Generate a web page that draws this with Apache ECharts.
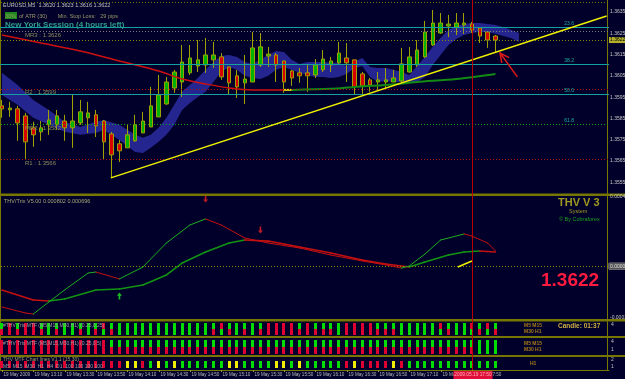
<!DOCTYPE html>
<html>
<head>
<meta charset="utf-8">
<script src="https://cdn.jsdelivr.net/npm/echarts@6/dist/echarts.min.js"></script>
<style>
html,body{margin:0;padding:0;background:#00002b;overflow:hidden;}
#chart{width:625px;height:379px;}
</style>
</head>
<body>
<div id="chart"></div>
<script>
// ================= DATA =================
// EURUSD M5 candles: [open, close, low, high]
const ohlc = [
 [1.35909,1.35895,1.35853,1.35937],[1.35890,1.35899,1.35857,1.35928],[1.35895,1.35829,1.35745,1.35909],
 [1.35862,1.35740,1.35660,1.35876],[1.35806,1.35773,1.35717,1.35834],[1.35787,1.35806,1.35745,1.35838],
 [1.35820,1.35843,1.35773,1.35890],[1.35820,1.35862,1.35796,1.35890],[1.35838,1.35806,1.35745,1.35867],
 [1.35806,1.35838,1.35712,1.35960],[1.35829,1.35881,1.35820,1.35937],[1.35853,1.35876,1.35782,1.35928],
 [1.35867,1.35815,1.35763,1.35890],[1.35838,1.35740,1.35660,1.35843],[1.35777,1.35679,1.35571,1.35787],
 [1.35731,1.35698,1.35646,1.35749],[1.35712,1.35773,1.35712,1.35820],[1.35745,1.35820,1.35740,1.35867],
 [1.35782,1.35838,1.35782,1.35881],[1.35810,1.35909,1.35810,1.35998],[1.35857,1.35960,1.35857,1.36054],
 [1.35918,1.36021,1.35914,1.36045],[1.35993,1.36068,1.35970,1.36078],[1.36021,1.36115,1.35951,1.36195],
 [1.36064,1.36134,1.36054,1.36195],[1.36096,1.36125,1.36068,1.36218],[1.36101,1.36148,1.36064,1.36228],
 [1.36125,1.36148,1.36087,1.36209],[1.36139,1.36045,1.36031,1.36157],[1.36092,1.36017,1.35960,1.36092],
 [1.36050,1.35998,1.35946,1.36078],[1.36017,1.36035,1.35918,1.36148],[1.36021,1.36181,1.36021,1.36256],
 [1.36101,1.36186,1.36092,1.36251],[1.36143,1.36152,1.36092,1.36186],[1.36148,1.36101,1.36021,1.36157],
 [1.36120,1.36021,1.35970,1.36120],[1.36073,1.36040,1.36003,1.36078],[1.36064,1.36050,1.36017,1.36087],
 [1.36064,1.36050,1.35975,1.36101],[1.36054,1.36101,1.36040,1.36129],[1.36078,1.36129,1.36068,1.36171],
 [1.36101,1.36120,1.36068,1.36139],[1.36111,1.36157,1.36101,1.36209],[1.36134,1.36111,1.36021,1.36204],
 [1.36125,1.35998,1.35960,1.36125],[1.36059,1.36003,1.35965,1.36068],[1.36031,1.36007,1.35975,1.36040],
 [1.36021,1.36031,1.35984,1.36068],[1.36021,1.36031,1.35993,1.36087],[1.36021,1.36040,1.36021,1.36078],
 [1.36026,1.36106,1.36021,1.36181],[1.36068,1.36139,1.36064,1.36186],[1.36101,1.36171,1.36092,1.36218],
 [1.36139,1.36256,1.36134,1.36308],[1.36195,1.36298,1.36190,1.36359],[1.36251,1.36298,1.36247,1.36345],
 [1.36284,1.36293,1.36232,1.36336],[1.36279,1.36298,1.36242,1.36345],[1.36289,1.36298,1.36247,1.36345],
 [1.36293,1.36265,1.36251,1.36303],[1.36275,1.36237,1.36204,1.36279],[1.36256,1.36218,1.36181,1.36256],
 [1.36237,1.36218,1.36162,1.36242]
];

// blue channel band (bar index, upper, lower)
const bandIdx = [0,2,4,6,8,10,12,13,15,17,18,19,20,21,22,23,24,25,26,27,28,29,30,31,32,33,34,35,36,37,38,39,40,41,42,43,44,45,46,47,48,49,50,51,52,53,54,55,56,57,58,59,60,61,62,63,64,65,66];
const bandUp  = [1.36064,1.36007,1.35937,1.35890,1.35834,1.35810,1.35834,1.35843,1.35820,1.35773,1.35759,1.35773,1.35806,1.35853,1.35914,1.35975,1.36007,1.36040,1.36078,1.36115,1.36143,1.36148,1.36139,1.36115,1.36106,1.36125,1.36148,1.36167,1.36162,1.36125,1.36106,1.36115,1.36115,1.36115,1.36111,1.36111,1.36096,1.36115,1.36134,1.36092,1.36087,1.36087,1.36078,1.36068,1.36054,1.36096,1.36139,1.36186,1.36228,1.36265,1.36284,1.36293,1.36298,1.36298,1.36293,1.36289,1.36279,1.36265,1.36251];
const bandLo  = [1.35960,1.35914,1.35853,1.35820,1.35787,1.35773,1.35782,1.35796,1.35749,1.35693,1.35688,1.35712,1.35740,1.35773,1.35820,1.35890,1.35923,1.35951,1.35975,1.36021,1.36068,1.36092,1.36078,1.36050,1.36040,1.36035,1.36050,1.36078,1.36092,1.36078,1.36064,1.36054,1.36045,1.36045,1.36040,1.36045,1.36059,1.36087,1.36096,1.36045,1.36021,1.36026,1.36021,1.36021,1.36017,1.36021,1.36045,1.36101,1.36148,1.36195,1.36223,1.36242,1.36251,1.36256,1.36256,1.36247,1.36237,1.36228,1.36209];

// moving average (red falling, yellow flat, green rising)
const maIdx = [0,5,10,15,20,23,26,29,32,36,37,42,45,49,53,58,63];
const maVal = [1.36242,1.36204,1.36167,1.36120,1.36073,1.36035,1.36012,1.35993,1.35984,1.35984,1.35984,1.35989,1.35998,1.36007,1.36021,1.36035,1.36059];
const maYellowFrom = 36, maGreenFrom = 37;

// levels
const fibLevels = [1.36279,1.36106,1.35965,1.35824];
const fibNames  = ['23.6','38.2','50.0','61.8'];
const fibDrawn  = [true, true, true, false]; // 61.8 coincides with MR2 line
const pivotLevels = [1.36261,1.35989,1.35824,1.35660];
const pivotNames  = ['MR3','R2','MR2','R1'];
const pivotColors = ['#7d7d7d','#b01010','#17a017','#b01010'];
const topLevel = 1.36397;
const currentPrice = 1.36218;

// trend line and arrow
const trendIdx = [13.9, 77.2];
const trendVal = [1.35571, 1.36331];
const arrowIdx = [65.8, 63.6];
const arrowVal = [1.36045, 1.36157];

// THV / Trix indicator
const fastIdx = [0,3,4,6,8,11,12,15,18,21,24,26,28,31,34,38,42,46,49,51,52,54,56,59,60,62,63];
const fastVal = [-0.000236,-0.000271,-0.000277,-0.000207,-0.000138,-0.000040,-0.000034,-0.000074,-0.000005,0.000134,0.000238,0.000273,0.000238,0.000163,0.000134,0.000105,0.000064,0.000030,0.000007,-0.000011,0.000001,0.000070,0.000151,0.000186,0.000174,0.000134,0.000088];
const slowIdx = [0,4,6,8,12,15,18,21,23,26,29,31,34,38,42,46,49,52,54,57,59,61,62,63];
const slowVal = [-0.000138,-0.000196,-0.000202,-0.000190,-0.000138,-0.000132,-0.000109,-0.000051,0.000018,0.000082,0.000134,0.000151,0.000145,0.000111,0.000076,0.000036,0.000012,-0.000005,0.000024,0.000064,0.000082,0.000088,0.000085,0.000082];
const upArrowIdx = [15], upArrowVal = [-0.000173];
const downArrowIdx = [26,33], downArrowVal = [0.000388,0.000209];
const thvYellowIdx = [58.2, 60], thvYellowVal = [-0.000005, 0.000030];

// MTF bar panels (g = green, r = red, y = yellow), top segment first
const panel1Codes = ['gr','rr','gr','rr','rr','gr','gg','gr','gg','gg','gr','gg','gr','rg','gr',
 'gg','gg','gg','gg','gg','gg','gg','gg','gg','gg','gg','gg',
 'gr','rg','gr','gg','gr','gg','gr','rr','rr','rr','rr','gr','rr',
 'gr','gr','gr','gg','rr','rr','rr','rr','gr','gr','gr','gg','gg','gg','gg','gg','rg','gr','gg','gg','rg','gr','rg','gr'];
const panel2Codes = ('rr rr rr rr rr rr rr rr rr rr rr rr rr rr gr gr gr gr gr gr gr gr gr gr gr gr gr gr gr gr gr gr ' +
 'gr gr gr gr gr gr gr gr gr gr gr gr gr gr gr gr gr gr gr gr gr gr gr gr gr gr gr gr gr gg gg gg').split(' ');
const panel3Codes = ('rrrrrrrrrrrrrrrr' + 'yyrgygyggg' + 'gggyyggggyygyg' + 'ggggryrrrryrg' + 'ggggggggggg').split('');

// time axis
const tickLabels = ['19 May 2009','19 May 13:10','19 May 13:30','19 May 13:50','19 May 14:10','19 May 14:30',
 '19 May 14:50','19 May 15:10','19 May 15:30','19 May 15:50','19 May 16:10','19 May 16:30','19 May 16:50',
 '19 May 17:10','19 May 17:30','19 May 17:50'];
const tickEvery = 4;
const crossIdx = 60;
const crossLabel = '2009.05.19 17:50';

// ================= CHART =================
const SLOTS = 78;
const cats = Array.from({length: SLOTS}, (_, i) => String(i));
const FONT = '"Liberation Sans", Arial, sans-serif';
const OLIVE = '#767600';
const codeColor = {g: '#00dd00', r: '#dd0030', y: '#eeee00'};
const pair = (ix, vs) => ix.map((x, k) => [x, vs[k]]);

const G = [
  {top: 0, height: 193},
  {top: 197, height: 121},
  {top: 322, height: 13},
  {top: 339, height: 16},
  {top: 357, height: 13}
];

function valX(g) { return {gridIndex: g, type: 'value', min: -0.5, max: SLOTS - 0.5, show: false}; }

function slopeLines(ix, vs, green, red, width) {
  const pts = pair(ix, vs);
  return function (params, api) {
    const k = params.dataIndex;
    if (k === 0) return null;
    const a = api.coord(pts[k - 1]), b = api.coord(pts[k]);
    const col = pts[k][1] >= pts[k - 1][1] ? green : red;
    return {type: 'line', shape: {x1: a[0], y1: a[1], x2: b[0], y2: b[1]},
      style: {stroke: col, lineWidth: width, lineCap: 'round'}};
  };
}

function barRender(codes, padTop, padBot, w) {
  return function (params, api) {
    const i = params.dataIndex, code = codes[i];
    if (!code) return null;
    const cs = params.coordSys;
    const cx = api.coord([i, 0])[0];
    const y0 = cs.y + padTop, h = cs.height - padTop - padBot;
    const children = [];
    for (let s = 0; s < code.length; s++) {
      children.push({type: 'rect', shape: {x: Math.round(cx - w / 2), y: y0 + h * s / code.length, width: w, height: h / code.length},
        style: {fill: codeColor[code[s]]}});
    }
    return {type: 'group', children};
  };
}

const levelLines = [];
levelLines.push({yAxis: topLevel, lineStyle: {color: OLIVE, type: [1, 2], width: 1}, label: {show: false}});
fibLevels.forEach((v, k) => levelLines.push({
  yAxis: v, lineStyle: {color: fibDrawn[k] ? '#13a0a0' : 'rgba(0,0,0,0)', type: 'solid', width: 1},
  label: {show: true, position: 'insideEndTop', formatter: fibNames[k], color: '#1fb0a0', fontSize: 5,
    fontFamily: FONT, padding: [0, 34, 0, 0], distance: 1}
}));
pivotLevels.forEach((v, k) => levelLines.push({
  yAxis: v, lineStyle: {color: pivotColors[k], type: [1, 2], width: 1},
  label: {show: true, position: 'insideStartBottom', formatter: pivotNames[k] + ' : ' + v.toFixed(4),
    color: '#8c8c5c', fontSize: 6, fontFamily: FONT, padding: [0, 0, 0, 26], distance: 1}
}));
levelLines.push({yAxis: currentPrice, lineStyle: {color: '#8c8c00', type: [1, 2], width: 1},
  label: {show: true, position: 'end', formatter: currentPrice.toFixed(4), color: '#000', fontSize: 5,
    fontFamily: FONT, backgroundColor: '#b4b02a', padding: [1, 1, 0, 1], distance: 0}});

const lastClose = ohlc[ohlc.length - 1][1];

const txt = (x, y, text, st) => ({type: 'text', x, y, silent: true, z: 100,
  style: Object.assign({text, fill: '#c0c0c0', fontSize: 6, fontFamily: FONT, align: 'left', verticalAlign: 'top'}, st || {})});
const bar = (y, h) => ({type: 'rect', shape: {x: 0, y, width: 625, height: h}, style: {fill: OLIVE}, silent: true, z: 0});

const maRed = [], maYel = [], maGrn = [];
maIdx.forEach((x, k) => {
  const p = [x, maVal[k]];
  if (x <= maYellowFrom) maRed.push(p);
  if (x >= maYellowFrom && x <= maGreenFrom) maYel.push(p);
  if (x >= maGreenFrom) maGrn.push(p);
});

const option = {
  backgroundColor: '#00002b',
  animation: false,
  grid: G.map(g => ({left: -2, width: 611, top: g.top, height: g.height, containLabel: false, outerBoundsMode: 'none', show: false})),
  xAxis: [
    {gridIndex: 0, type: 'category', data: cats, boundaryGap: true, show: false}, // 0
    valX(0), valX(1), valX(2), valX(3), valX(4),                                 // 1..5
    {gridIndex: 4, type: 'category', data: cats, boundaryGap: true, position: 'bottom',  // 6
      axisLine: {show: true, lineStyle: {color: OLIVE, width: 1}},
      axisTick: {show: false}, axisLabel: {show: false}, splitLine: {show: false}}
  ],
  yAxis: [
    {gridIndex: 0, type: 'value', position: 'right', offset: -2, min: 1.3550, max: 1.36406, interval: 0.0005,
      axisLine: {show: false}, axisTick: {show: false}, splitLine: {show: false},
      axisLabel: {fontSize: 5, color: '#c8c8c8', fontFamily: FONT, margin: 3, showMaxLabel: false, hideOverlap: false,
        formatter: v => (Math.round(v * 10000) % 10 === 5 ? v.toFixed(4) : '')}},
    {gridIndex: 1, type: 'value', position: 'right', offset: -2, min: -0.0003, max: 0.0004, interval: 0.0001,
      axisLine: {show: false}, axisTick: {show: false}, splitLine: {show: false},
      axisLabel: {fontSize: 5, color: '#c8c8c8', fontFamily: FONT, margin: 3, hideOverlap: false,
        formatter: v => (Math.abs(v - 0.0004) < 1e-9 ? '0.00040' : (Math.abs(v + 0.0003) < 1e-9 ? '-0.00030' : ''))}},
    {gridIndex: 2, type: 'value', min: 0, max: 1, show: false},
    {gridIndex: 3, type: 'value', min: 0, max: 1, show: false},
    {gridIndex: 4, type: 'value', min: 0, max: 1, show: false}
  ],
  series: [
    // channel band
    {type: 'custom', xAxisIndex: 1, yAxisIndex: 0, z: 1, silent: true, data: [[0, bandUp[0]]],
      renderItem: (params, api) => {
        const pts = [];
        for (let k = 0; k < bandIdx.length; k++) pts.push(api.coord([bandIdx[k], bandUp[k]]));
        for (let k = bandIdx.length - 1; k >= 0; k--) pts.push(api.coord([bandIdx[k], bandLo[k]]));
        return {type: 'polygon', shape: {points: pts}, style: {fill: '#25258f'}};
      }},
    // level lines (horizontal)
    {type: 'line', xAxisIndex: 1, yAxisIndex: 0, z: 2, data: [], showSymbol: false,
      markLine: {silent: true, symbol: 'none', animation: false, precision: 6, data: levelLines}},
    // candles
    {type: 'candlestick', xAxisIndex: 0, yAxisIndex: 0, z: 3, data: ohlc, barWidth: 4,
      itemStyle: {color: '#00b400', color0: '#d80000', borderColor: '#a0a000', borderColor0: '#a0a000', borderWidth: 1}},
    // moving average
    {type: 'line', xAxisIndex: 1, yAxisIndex: 0, z: 4, data: maRed, showSymbol: false, smooth: 0.3,
      lineStyle: {color: '#cc1010', width: 1.5}},
    {type: 'line', xAxisIndex: 1, yAxisIndex: 0, z: 4, data: maYel, showSymbol: false,
      lineStyle: {color: '#dddd00', width: 2}},
    {type: 'line', xAxisIndex: 1, yAxisIndex: 0, z: 4, data: maGrn, showSymbol: false, smooth: 0.3,
      lineStyle: {color: '#138a13', width: 2}},
    // trend line
    {type: 'line', xAxisIndex: 1, yAxisIndex: 0, z: 5, data: pair(trendIdx, trendVal), showSymbol: false,
      lineStyle: {color: '#f0f000', width: 1.5}},
    // red arrow
    {type: 'custom', xAxisIndex: 1, yAxisIndex: 0, z: 6, silent: true, data: [[arrowIdx[1], arrowVal[1]]],
      renderItem: (params, api) => {
        const a = api.coord([arrowIdx[0], arrowVal[0]]), b = api.coord([arrowIdx[1], arrowVal[1]]);
        const dx = b[0] - a[0], dy = b[1] - a[1], L = Math.hypot(dx, dy), ux = dx / L, uy = dy / L;
        const hl = 9, hw = 4.5;
        const w1 = [b[0] - ux * hl - uy * hw, b[1] - uy * hl + ux * hw];
        const w2 = [b[0] - ux * hl + uy * hw, b[1] - uy * hl - ux * hw];
        return {type: 'group', children: [
          {type: 'line', shape: {x1: a[0], y1: a[1], x2: b[0], y2: b[1]}, style: {stroke: '#e01818', lineWidth: 1.5}},
          {type: 'polyline', shape: {points: [w1, b, w2]}, style: {stroke: '#e01818', lineWidth: 1.5, fill: null}}
        ]};
      }},
    // THV lines
    {type: 'custom', xAxisIndex: 2, yAxisIndex: 1, z: 4, silent: true, data: pair(slowIdx, slowVal),
      renderItem: slopeLines(slowIdx, slowVal, '#129412', '#c41010', 1.6)},
    {type: 'custom', xAxisIndex: 2, yAxisIndex: 1, z: 5, silent: true, data: pair(fastIdx, fastVal),
      renderItem: slopeLines(fastIdx, fastVal, '#1eb01e', '#c41010', 1)},
    {type: 'line', xAxisIndex: 2, yAxisIndex: 1, z: 6, data: pair(thvYellowIdx, thvYellowVal), showSymbol: false,
      lineStyle: {color: '#f0f000', width: 1.5},
      markLine: {silent: true, symbol: 'none', animation: false, precision: 8, data: [{yAxis: 0,
        lineStyle: {color: '#8c8c00', type: [1, 2], width: 1},
        label: {show: true, position: 'end', formatter: '0.0000', color: '#e0e0e0', fontSize: 5, fontFamily: FONT,
          backgroundColor: '#555555', borderColor: '#aaaaaa', borderWidth: 0.5, padding: [1, 1, 0, 1], distance: 0}}]}},
    {type: 'scatter', xAxisIndex: 2, yAxisIndex: 1, z: 7, data: pair(upArrowIdx, upArrowVal),
      symbol: 'path://M3,0 L6,4 L4,4 L4,9 L2,9 L2,4 L0,4 Z', symbolSize: [5, 7], itemStyle: {color: '#22ee22'}},
    {type: 'scatter', xAxisIndex: 2, yAxisIndex: 1, z: 7, data: pair(downArrowIdx, downArrowVal),
      symbol: 'path://M2,0 L4,0 L4,5 L6,5 L3,9 L0,5 L2,5 Z', symbolSize: [5, 7], itemStyle: {color: '#ee2222'}},
    // MTF panels
    {type: 'custom', xAxisIndex: 3, yAxisIndex: 2, z: 3, silent: true, data: ohlc.map((_, i) => [i, 0.5]),
      renderItem: barRender(panel1Codes, 1, 0, 3)},
    {type: 'custom', xAxisIndex: 4, yAxisIndex: 3, z: 3, silent: true, data: ohlc.map((_, i) => [i, 0.5]),
      renderItem: barRender(panel2Codes, 1, 1, 3)},
    {type: 'custom', xAxisIndex: 5, yAxisIndex: 4, z: 3, silent: true, data: ohlc.map((_, i) => [i, 0.5]),
      renderItem: barRender(panel3Codes, 4, 2, 3)},
    // time tick labels
    {type: 'custom', xAxisIndex: 5, yAxisIndex: 4, z: 10, silent: true, clip: false,
      data: tickLabels.map((_, k) => [k * tickEvery, 0]),
      renderItem: (params, api) => {
        const k = params.dataIndex, cs = params.coordSys;
        const x = Math.round(api.coord([k * tickEvery, 0])[0]) + 0.5;
        const yb = cs.y + cs.height;
        return {type: 'group', children: [
          {type: 'line', shape: {x1: x, y1: yb, x2: x, y2: yb + 2}, style: {stroke: '#9a9a30', lineWidth: 1}},
          {type: 'text', x: x + 1, y: yb + 2, style: {text: tickLabels[k], fill: '#b8b8b8', fontSize: 4.6, fontFamily: FONT,
            align: 'left', verticalAlign: 'top'}}
        ]};
      }},
    // cross line through all panels + time label
    {type: 'custom', xAxisIndex: 5, yAxisIndex: 4, z: 20, silent: true, clip: false, data: [[crossIdx, 0]],
      renderItem: (params, api) => {
        const cs = params.coordSys;
        const x = Math.round(api.coord([crossIdx, 0])[0]) + 0.5;
        const yb = cs.y + cs.height;
        return {type: 'group', children: [
          {type: 'line', shape: {x1: x, y1: 0, x2: x, y2: yb}, style: {stroke: '#b80000', lineWidth: 1}},
          {type: 'rect', shape: {x: x - 19, y: yb + 1, width: 39, height: 8}, style: {fill: '#e0103a'}},
          {type: 'text', x: x + 0.5, y: yb + 5, style: {text: crossLabel, fill: '#ffb0b8', fontSize: 4.8, fontFamily: FONT,
            align: 'center', verticalAlign: 'middle'}}
        ]};
      }}
  ],
  graphic: [
    bar(193.5, 2.5), bar(319, 2.5), bar(336, 2), bar(355, 2),
    {type: 'line', shape: {x1: 607.5, y1: 0, x2: 607.5, y2: 370}, style: {stroke: OLIVE, lineWidth: 1}, silent: true, z: 0},
    {type: 'line', shape: {x1: 0.5, y1: 0, x2: 0.5, y2: 370}, style: {stroke: OLIVE, lineWidth: 1}, silent: true, z: 0},
    txt(3, 2, 'EURUSD,M5  1.3620 1.3623 1.3616 1.3622', {fontSize: 5.5}),
    {type: 'rect', shape: {x: 5, y: 12, width: 12, height: 7}, style: {fill: '#1c8a1c'}, silent: true, z: 99},
    txt(5, 13, '30%  of ATR (30)       Min. Stop Loss:   29 pips', {fontSize: 5.5, fill: '#9a9a66'}),
    txt(5, 21, 'New York Session (4 hours left)', {fontSize: 8, fontWeight: 'bold', fill: '#2e9e8a'}),
    txt(4, 198, 'THV/Trix V5.00 0.000802 0.000696', {fontSize: 5.5, fill: '#a8a878'}),
    txt(558, 197, 'THV V 3', {fontSize: 11, fontWeight: 'bold', fill: '#a09a20'}),
    txt(569, 208, 'System', {fontSize: 5.5, fill: '#a09a20'}),
    txt(559, 216, '\u00a9 By Cobraforex', {fontSize: 5.5, fill: '#1ea01e'}),
    txt(541, 271, lastClose.toFixed(4), {fontSize: 19, fontWeight: 'bold', fill: '#ff1a40'}),
    txt(558, 323, 'Candle: 01:37', {fontSize: 6.5, fontWeight: 'bold', fill: '#d0b040'}),
    txt(524, 323, 'M5 M15\nM30 H1', {fontSize: 5, fontWeight: 'bold', fill: '#a87a18', lineHeight: 6}),
    txt(524, 341, 'M5 M15\nM30 H1', {fontSize: 5, fontWeight: 'bold', fill: '#a87a18', lineHeight: 6}),
    txt(530, 361, 'H1', {fontSize: 5, fontWeight: 'bold', fill: '#a87a18'}),
    txt(3, 323, '#THV Trix MTF (M5,M15,M30,H1) (0.25,0.25)', {fontSize: 5, fill: '#a0a0a0'}),
    txt(3, 341, '#THV Trix MTF (M5,M15,M30,H1) (0.25,0.5)', {fontSize: 5, fill: '#a0a0a0'}),
    txt(3, 357, 'THV MTF Chart lines V1.1 (15,30)', {fontSize: 5, fill: '#a0a060'}),
    txt(3, 364, 'M5  M15  M30  H1  H4  D1  100 100 100 100', {fontSize: 5, fill: '#a0a0a0'}),
    txt(611, 322, '4', {fontSize: 5}), txt(611, 339, '4', {fontSize: 5}), txt(611, 347, '1', {fontSize: 5}),
    txt(611, 357, '2', {fontSize: 5}), txt(611, 364, '1', {fontSize: 5})
  ]
};

const chart = echarts.init(document.getElementById('chart'), null, {renderer: 'canvas'});
chart.setOption(option);
</script>
</body>
</html>
